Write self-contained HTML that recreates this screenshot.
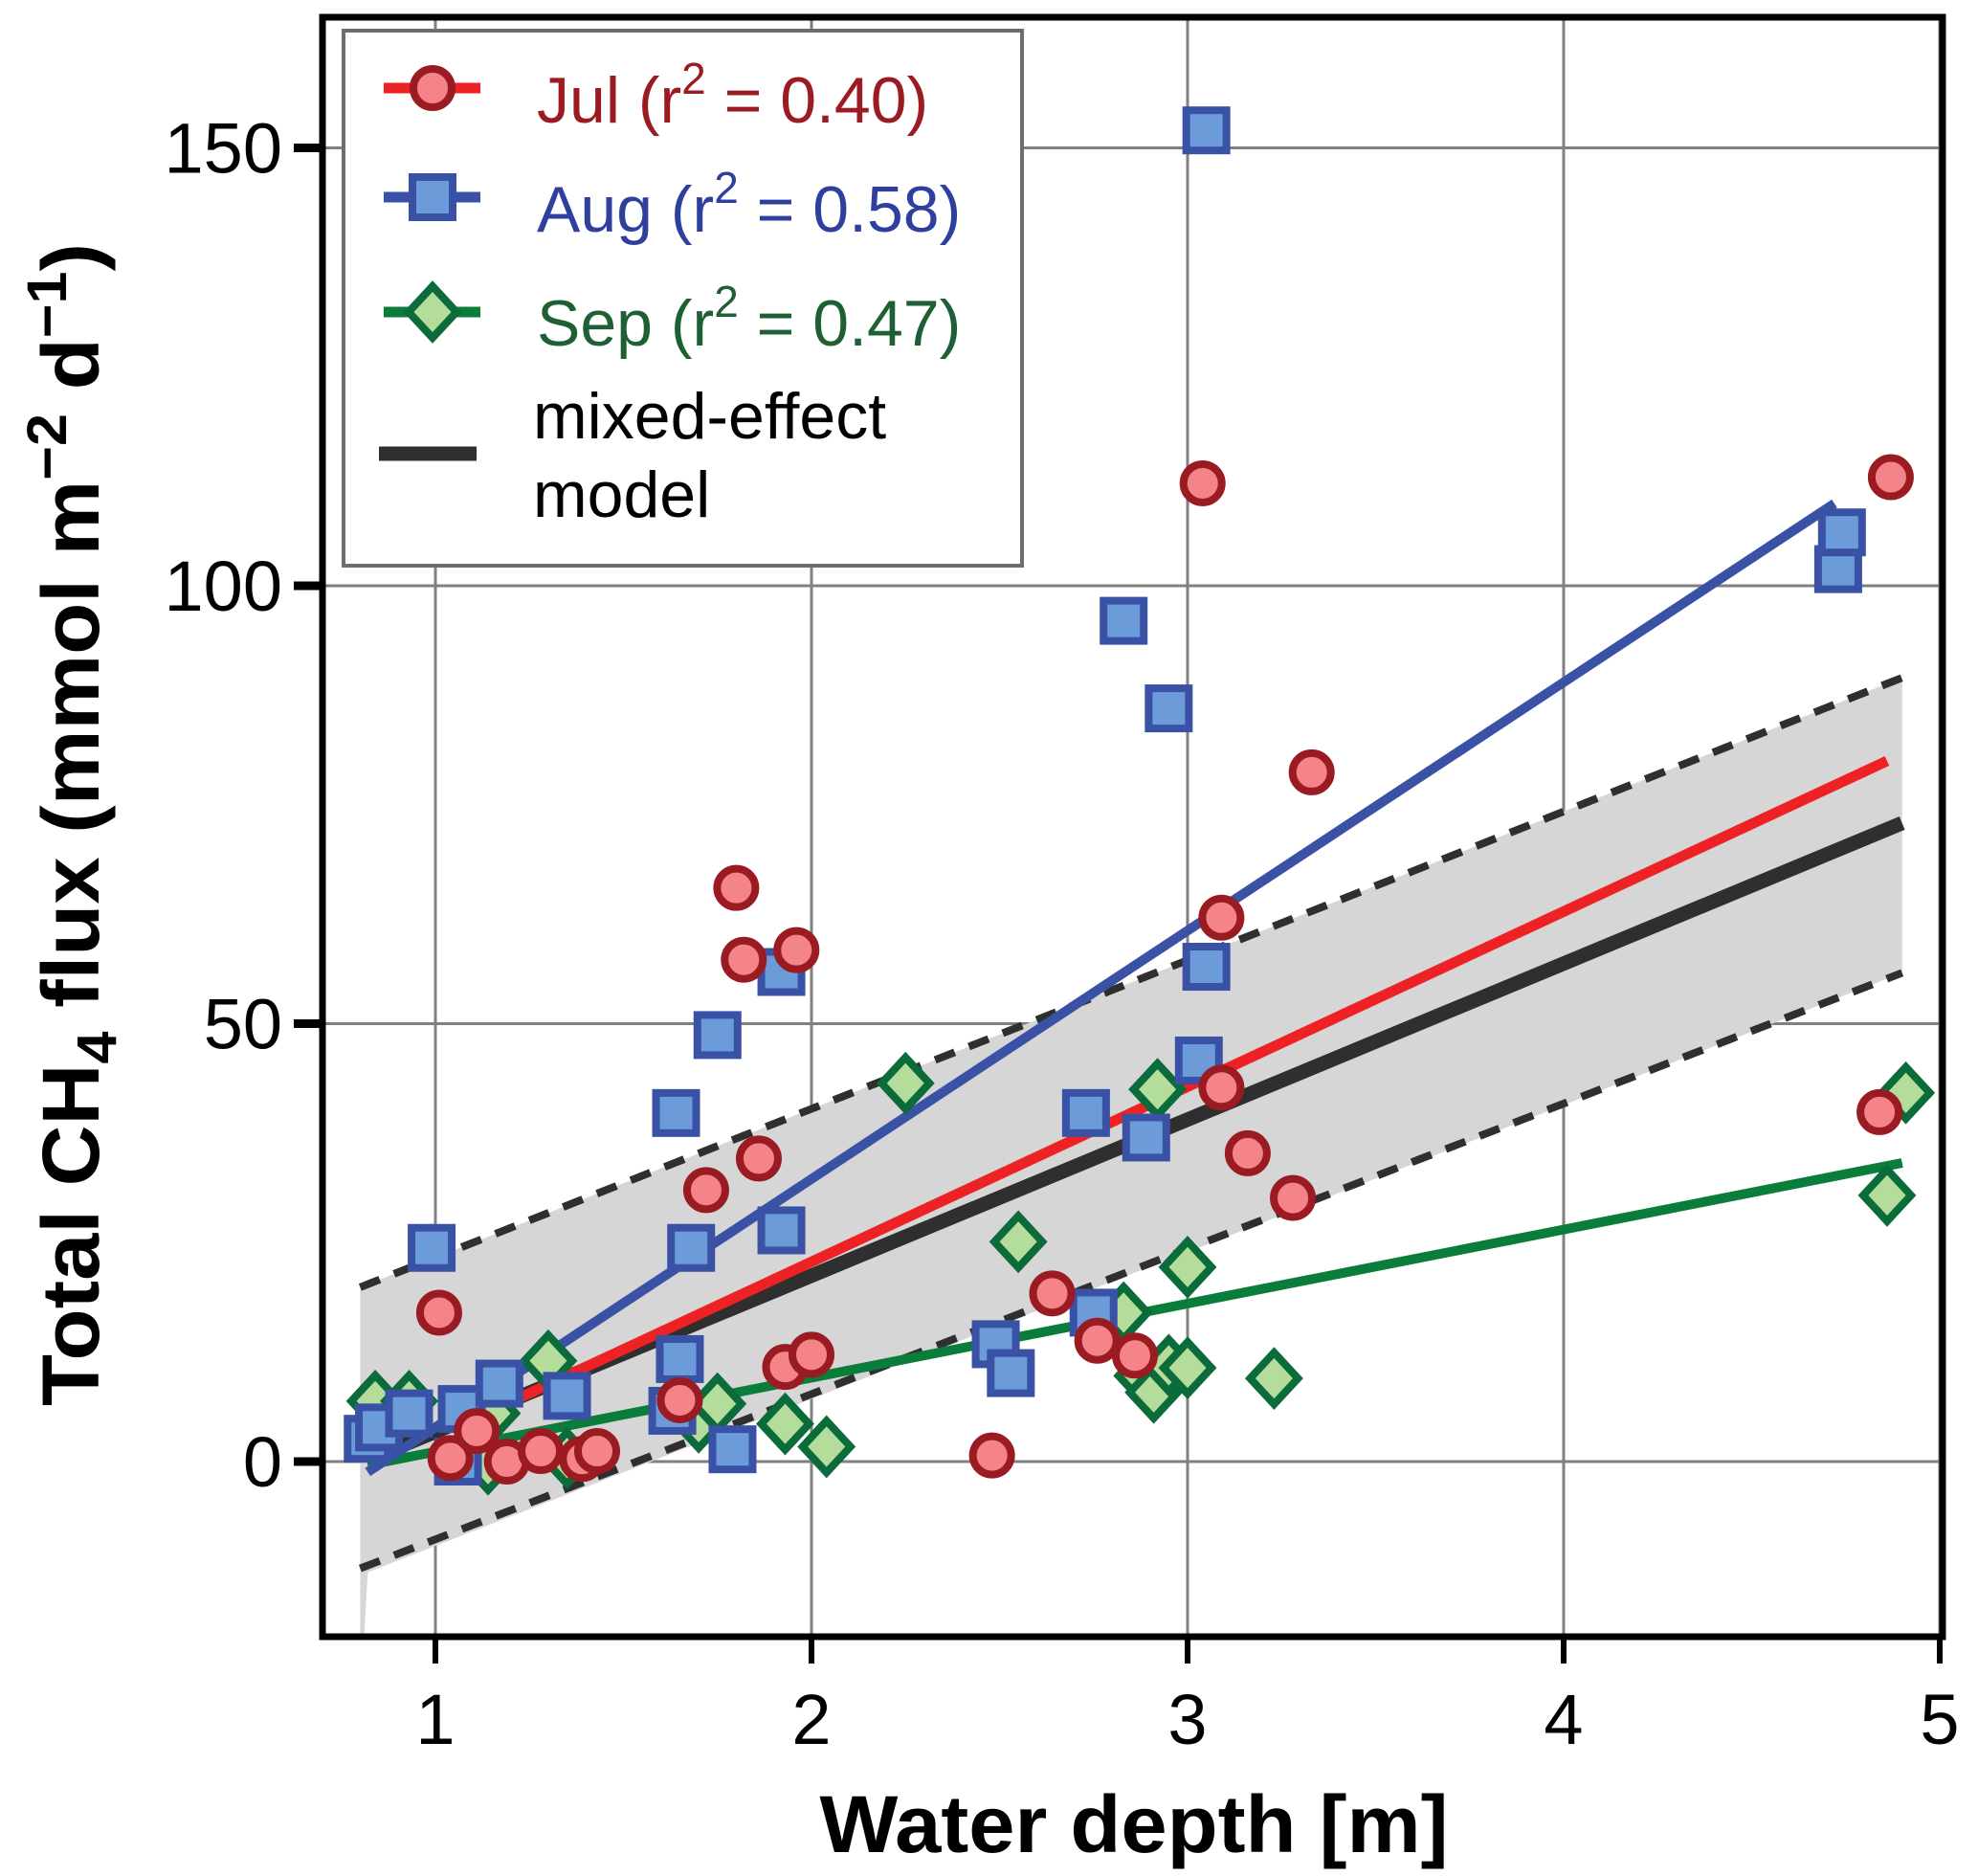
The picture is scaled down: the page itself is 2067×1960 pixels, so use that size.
<!DOCTYPE html>
<html><head><meta charset="utf-8"><style>
html,body{margin:0;padding:0;background:#fff;}
svg{display:block;font-family:"Liberation Sans",Arial,sans-serif;}
</style></head><body>
<svg id="chart" width="2067" height="1960" viewBox="0 0 2067 1960" xmlns="http://www.w3.org/2000/svg">
<g id="grid"></g>
<g id="band"></g>
<g id="lines"></g>
<g id="marks"></g>
<g id="axes"></g>
<g id="legend"></g>
</svg>
<script>
const julX=[1.01,1.04,1.11,1.19,1.28,1.39,1.43,1.65,1.72,1.80,1.82,1.86,1.93,1.96,2.00,2.48,2.64,2.76,2.86,3.04,3.09,3.09,3.16,3.28,3.33,4.84,4.87];
const julY=[17,0.4,3.5,0,1.2,0.3,1.2,7,31,65.5,57.3,34.6,10.8,58.4,12.2,0.7,19.2,13.8,12.1,111.7,62.1,42.7,35.2,30.1,78.7,39.9,112.4];
const augX=[0.82,0.85,0.93,0.99,1.07,1.06,1.17,1.35,1.65,1.63,1.64,1.68,1.75,1.79,1.92,1.92,2.49,2.53,2.73,2.75,2.83,2.89,2.95,3.03,3.05,3.05,4.73,4.74];
const augY=[2.6,3.9,5.5,24.4,6,0,8.9,7.5,11.7,5.8,39.8,24.4,48.7,1.4,26.4,55.9,13.4,10.1,39.8,17,96,37,86,45.8,56.5,152,101.9,106.1];
const sepX=[0.84,0.93,1.14,1.15,1.30,1.35,1.70,1.75,1.93,2.04,2.25,2.55,2.83,2.88,2.91,2.92,2.95,3.0,3.0,3.23,4.86,4.91];
const sepY=[6.9,6.9,-0.3,5.5,11.5,0.4,4.5,6.6,4.3,1.7,43.2,25.1,17,9.8,7.9,42.5,11,10.7,22.2,9.5,30.4,42.1];
// regression lines: [x0,x1], [y0,y1]
const julFitX=[1.05,4.86], julFitY=[3.8,80];
const augFitX=[0.82,4.72], augFitY=[-1.2,109.4];
const sepFitX=[0.82,4.90], sepFitY=[-0.4,34.1];
const mixFitX=[0.82,4.90], mixFitY=[0.2,72.9];
const ciUpperY=[19.9,89.5], ciLowerY=[-12.2,55.8], ciX=[0.80,4.90];
const xTicks=[1,2,3,4,5];
const yTicks=[0,50,100,150];

const NS="http://www.w3.org/2000/svg";
const L=337,R=2030,T=18,B=1710;
const X=v=>455+(v-1)*393;
const Y=v=>1527-v*9.15;
function el(tag,attrs,parent,text){const e=document.createElementNS(NS,tag);for(const k in attrs)e.setAttribute(k,attrs[k]);if(text!==undefined)e.textContent=text;document.getElementById(parent).appendChild(e);return e;}

// grid
xTicks.forEach(t=>{const e=el('line',{x1:X(t),x2:X(t),y1:T,y2:B,stroke:'#808080','stroke-width':3},'grid');

});
yTicks.forEach(t=>{const e=el('line',{x1:L,x2:R,y1:Y(t),y2:Y(t),stroke:'#808080','stroke-width':3},'grid');

});

// confidence band
const bx0=X(ciX[0]),bx1=X(ciX[1]);
const band=el('polygon',{points:`${bx0},${Y(ciUpperY[0])} ${bx1},${Y(ciUpperY[1])} ${bx1},${Y(ciLowerY[1])} ${bx0+8},${Y(ciLowerY[0])+4} ${bx0+4},${B} ${bx0},${B}`,fill:'#d6d6d6'},'band');


[ciUpperY,ciLowerY].forEach((arr,i)=>{const e=el('line',{x1:bx0,y1:Y(arr[0]),x2:bx1,y2:Y(arr[1]),stroke:'#2f2f2f','stroke-width':8,'stroke-dasharray':'22 16'},'band');

});

// fit lines
function fit(xs,ys,col,w,name){const e=el('line',{x1:X(xs[0]),y1:Y(ys[0]),x2:X(xs[1]),y2:Y(ys[1]),stroke:col,'stroke-width':w},'lines');

}
fit(mixFitX,mixFitY,'#2f2f2f',15,'mixed-effect-line');
fit(sepFitX,sepFitY,'#0a7d3a',10,'sep-fit-line');
fit(julFitX,julFitY,'#ee2224',11,'jul-fit-line');
fit(augFitX,augFitY,'#3a52a6',10,'aug-fit-line');

// markers
function circle(cx,cy,g){return el('circle',{cx:cx,cy:cy,r:20,fill:'#f4848a',stroke:'#9b1b22','stroke-width':8},g);}
function square(cx,cy,g){return el('rect',{x:cx-21,y:cy-21,width:42,height:42,fill:'#6b9bd8',stroke:'#3a52a6','stroke-width':8},g);}
function diamond(cx,cy,g){return el('polygon',{points:`${cx},${cy-27} ${cx+25},${cy} ${cx},${cy+27} ${cx-25},${cy}`,fill:'#b4dc9a',stroke:'#0b6b3a','stroke-width':8},g);}
sepX.forEach((x,i)=>{const e=diamond(X(x),Y(sepY[i]),'marks');

});
augX.forEach((x,i)=>{const e=square(X(x),Y(augY[i]),'marks');

});
julX.forEach((x,i)=>{const e=circle(X(x),Y(julY[i]),'marks');

});

// axes frame
const fr=el('rect',{x:L,y:T,width:R-L,height:B-T,fill:'none',stroke:'#000','stroke-width':7},'axes');


xTicks.forEach(t=>{const k=el('line',{x1:X(t),x2:X(t),y1:B,y2:1738,stroke:'#000','stroke-width':6},'axes');


const lb=el('text',{x:X(t),y:1822,'font-size':74,'text-anchor':'middle',fill:'#000'},'axes',String(t));

});
yTicks.forEach(t=>{const k=el('line',{x1:307,x2:L,y1:Y(t),y2:Y(t),stroke:'#000','stroke-width':9},'axes');


const lb=el('text',{x:295,y:Y(t)+26,'font-size':74,'text-anchor':'end',fill:'#000'},'axes',String(t));

});
</script>
<svg style="position:absolute;left:0;top:0" width="2067" height="1960" xmlns="http://www.w3.org/2000/svg">
<text x="1185" y="1935" font-family="Liberation Sans, sans-serif" font-weight="bold" font-size="84" text-anchor="middle" textLength="657" lengthAdjust="spacingAndGlyphs">Water depth [m]</text>
<text transform="translate(103,1469) rotate(-90)" font-family="Liberation Sans, sans-serif" font-weight="bold" font-size="84" textLength="1215" lengthAdjust="spacingAndGlyphs">Total CH<tspan dy="18" font-size="58">4</tspan><tspan dy="-18"> flux (mmol m</tspan><tspan dy="-34" font-size="58">−2</tspan><tspan dy="34"> d</tspan><tspan dy="-34" font-size="58">−1</tspan><tspan dy="34">)</tspan></text>
<g font-family="Liberation Sans, sans-serif" font-size="68">
<rect x="359" y="32" width="709" height="559" fill="#fff" stroke="#6e6e6e" stroke-width="4"/>
<g>
<line x1="401" y1="92" x2="502" y2="92" stroke="#ee2224" stroke-width="11"/>
<circle cx="452" cy="92" r="20" fill="#f4848a" stroke="#9b1b22" stroke-width="8"/>
<text x="561" y="128" fill="#9b1b22">Jul (r<tspan dy="-30" font-size="46">2</tspan><tspan dy="30"> = 0.40)</tspan></text></g>
<g>
<line x1="401" y1="206" x2="502" y2="206" stroke="#3a52a6" stroke-width="11"/>
<rect x="431" y="185" width="42" height="42" fill="#6b9bd8" stroke="#3a52a6" stroke-width="8"/>
<text x="561" y="242" fill="#2e3f9e">Aug (r<tspan dy="-30" font-size="46">2</tspan><tspan dy="30"> = 0.58)</tspan></text></g>
<g>
<line x1="401" y1="326" x2="502" y2="326" stroke="#0a7d3a" stroke-width="11"/>
<polygon points="452,299 477,326 452,353 427,326" fill="#b4dc9a" stroke="#0b6b3a" stroke-width="8"/>
<text x="561" y="361" fill="#1f5f34">Sep (r<tspan dy="-30" font-size="46">2</tspan><tspan dy="30"> = 0.47)</tspan></text></g>
<g>
<line x1="396" y1="474" x2="498" y2="474" stroke="#2f2f2f" stroke-width="15"/>
<text x="557" y="458" fill="#000">mixed-effect</text>
<text x="557" y="540" fill="#000">model</text></g>
</g>
</svg>
</body></html>
